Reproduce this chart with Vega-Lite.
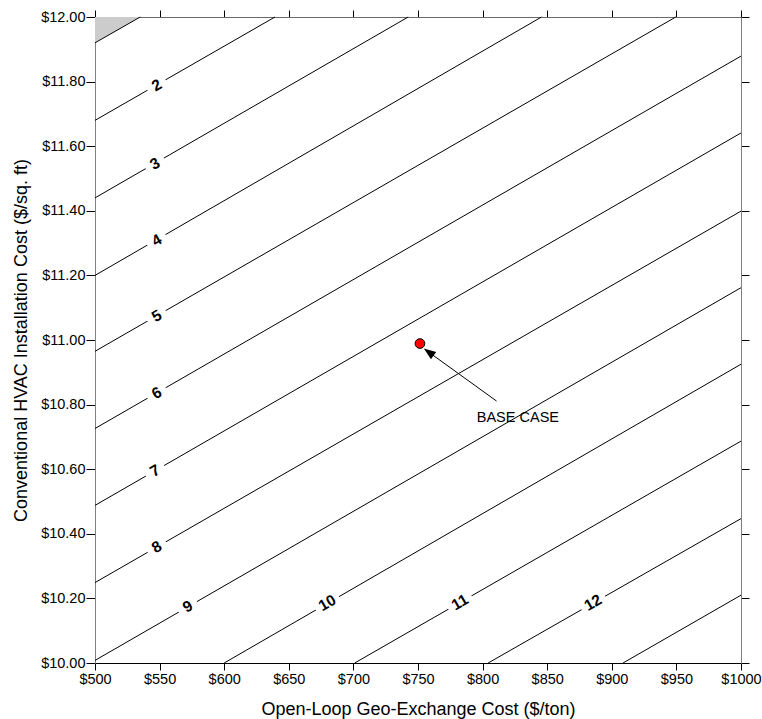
{
  "$schema": "https://vega.github.io/schema/vega-lite/v6.json",
  "width": 646,
  "height": 646,
  "autosize": {"type": "none"},
  "padding": {"left": 95, "top": 17, "right": 21, "bottom": 56},
  "background": "white",
  "config": {
    "view": {"stroke": null},
    "font": "Liberation Sans",
    "axis": {
      "grid": false,
      "labelFont": "Liberation Sans",
      "labelFontSize": 14.5,
      "labelColor": "black",
      "tickColor": "black",
      "tickWidth": 1,
      "domainWidth": 1,
      "titleFont": "Liberation Sans",
      "titleFontSize": 18,
      "titleFontWeight": "normal",
      "titleColor": "black",
      "labelFlush": false,
      "labelOverlap": false
    }
  },
  "datasets": {
    "shade": [
      {"x": 500, "y": 11.92, "y2": 12},
      {"x": 535, "y": 12, "y2": 12}
    ],
    "contours": [
      {"id": 1, "x": 500, "y": 11.92}, {"id": 1, "x": 535, "y": 12},
      {"id": 2, "x": 500, "y": 11.68}, {"id": 2, "x": 639.3, "y": 12},
      {"id": 3, "x": 500, "y": 11.44}, {"id": 3, "x": 742.4, "y": 12},
      {"id": 4, "x": 500, "y": 11.2}, {"id": 4, "x": 845.6, "y": 12},
      {"id": 5, "x": 500, "y": 10.965}, {"id": 5, "x": 949.5, "y": 12},
      {"id": 6, "x": 500, "y": 10.726}, {"id": 6, "x": 1000, "y": 11.879},
      {"id": 7, "x": 500, "y": 10.488}, {"id": 7, "x": 1000, "y": 11.641},
      {"id": 8, "x": 500, "y": 10.249}, {"id": 8, "x": 1000, "y": 11.399},
      {"id": 9, "x": 500, "y": 10.008}, {"id": 9, "x": 1000, "y": 11.162},
      {"id": 10, "x": 600, "y": 10}, {"id": 10, "x": 1000, "y": 10.925},
      {"id": 11, "x": 701, "y": 10}, {"id": 11, "x": 1000, "y": 10.687},
      {"id": 12, "x": 804.3, "y": 10}, {"id": 12, "x": 1000, "y": 10.447},
      {"id": 13, "x": 908.7, "y": 10}, {"id": 13, "x": 1000, "y": 10.21}
    ],
    "labels": [
      {"label": "2", "x": 547.7, "y": 11.789},
      {"label": "3", "x": 546.4, "y": 11.546},
      {"label": "4", "x": 547.7, "y": 11.309},
      {"label": "5", "x": 547.7, "y": 11.074},
      {"label": "6", "x": 547.7, "y": 10.836},
      {"label": "7", "x": 546.4, "y": 10.595},
      {"label": "8", "x": 547.7, "y": 10.359},
      {"label": "9", "x": 571.7, "y": 10.175},
      {"label": "10", "x": 679.7, "y": 10.186},
      {"label": "11", "x": 782.4, "y": 10.188},
      {"label": "12", "x": 885.5, "y": 10.187}
    ],
    "arrow": [{"x": 810.8, "y": 10.811, "x2": 758.3, "y2": 10.9625}],
    "arrowhead": [{"x": 758.3, "y": 10.9625}],
    "basecase": [{"x": 751.5, "y": 10.989}],
    "annot": [{"x": 827.3, "y": 10.746, "text": "BASE CASE"}]
  },
  "layer": [
    {
      "data": {"name": "shade"},
      "mark": {"type": "area", "color": "#cccccc", "opacity": 1},
      "encoding": {
        "x": {
          "field": "x", "type": "quantitative",
          "scale": {"domain": [500, 1000], "nice": false, "zero": false},
          "axis": {
            "orient": "bottom",
            "values": [500, 550, 600, 650, 700, 750, 800, 850, 900, 950, 1000],
            "labelExpr": "'$' + datum.value",
            "tickSize": 7,
            "labelPadding": 2,
            "domainColor": "black",
            "title": "Open-Loop Geo-Exchange Cost ($/ton)",
            "titleBaseline": "alphabetic",
            "titleY": 51.5
          }
        },
        "y": {
          "field": "y", "type": "quantitative",
          "scale": {"domain": [10, 12], "nice": false, "zero": false},
          "axis": {
            "orient": "left",
            "values": [10, 10.2, 10.4, 10.6, 10.8, 11, 11.2, 11.4, 11.6, 11.8, 12],
            "labelExpr": "'$' + format(datum.value, '.2f')",
            "tickSize": 9,
            "labelPadding": 1,
            "domainColor": "#808080",
            "title": "Conventional HVAC Installation Cost ($/sq. ft)",
            "titleBaseline": "alphabetic",
            "titleX": -69
          }
        },
        "y2": {"field": "y2"}
      }
    },
    {
      "data": {"name": "contours"},
      "mark": {"type": "line", "color": "black", "strokeWidth": 1},
      "encoding": {
        "x": {
          "field": "x", "type": "quantitative",
          "scale": {"domain": [500, 1000], "nice": false, "zero": false},
          "axis": {
            "orient": "top",
            "values": [500, 550, 600, 650, 700, 750, 800, 850, 900, 950, 1000],
            "labels": false,
            "tickSize": 7,
            "domainColor": "#6a6a6a",
            "title": null
          }
        },
        "y": {
          "field": "y", "type": "quantitative",
          "scale": {"domain": [10, 12], "nice": false, "zero": false},
          "axis": {
            "orient": "right",
            "values": [10, 10.2, 10.4, 10.6, 10.8, 11, 11.2, 11.4, 11.6, 11.8, 12],
            "labels": false,
            "tickSize": 8,
            "domainColor": "#808080",
            "title": null
          }
        },
        "detail": {"field": "id", "type": "nominal"}
      }
    },
    {
      "data": {"name": "labels"},
      "mark": {"type": "point", "shape": "M-1,-0.55H1V0.55H-1Z", "filled": true, "color": "white", "opacity": 1, "strokeWidth": 0, "angle": -30},
      "encoding": {
        "x": {"field": "x", "type": "quantitative", "scale": {"domain": [500, 1000], "nice": false, "zero": false}, "axis": null},
        "y": {"field": "y", "type": "quantitative", "scale": {"domain": [10, 12], "nice": false, "zero": false}, "axis": null},
        "size": {"condition": {"test": "length(datum.label) > 1", "value": 720}, "value": 440}
      }
    },
    {
      "data": {"name": "labels"},
      "mark": {"type": "text", "font": "Liberation Sans", "fontWeight": "bold", "fontSize": 15.5, "angle": -30, "align": "center", "baseline": "middle", "color": "black"},
      "encoding": {
        "x": {"field": "x", "type": "quantitative", "scale": {"domain": [500, 1000], "nice": false, "zero": false}, "axis": null},
        "y": {"field": "y", "type": "quantitative", "scale": {"domain": [10, 12], "nice": false, "zero": false}, "axis": null},
        "text": {"field": "label"}
      }
    },
    {
      "data": {"name": "arrow"},
      "mark": {"type": "rule", "color": "black", "strokeWidth": 1},
      "encoding": {
        "x": {"field": "x", "type": "quantitative", "scale": {"domain": [500, 1000], "nice": false, "zero": false}, "axis": null},
        "y": {"field": "y", "type": "quantitative", "scale": {"domain": [10, 12], "nice": false, "zero": false}, "axis": null},
        "x2": {"field": "x2"},
        "y2": {"field": "y2"}
      }
    },
    {
      "data": {"name": "arrowhead"},
      "mark": {"type": "point", "shape": "M0,-1L0.75,1L-0.75,1Z", "filled": true, "color": "black", "opacity": 1, "size": 144, "angle": -54.2},
      "encoding": {
        "x": {"field": "x", "type": "quantitative", "scale": {"domain": [500, 1000], "nice": false, "zero": false}, "axis": null},
        "y": {"field": "y", "type": "quantitative", "scale": {"domain": [10, 12], "nice": false, "zero": false}, "axis": null}
      }
    },
    {
      "data": {"name": "basecase"},
      "mark": {"type": "point", "shape": "circle", "filled": true, "color": "#ff0000", "stroke": "black", "strokeWidth": 1, "opacity": 1, "size": 95},
      "encoding": {
        "x": {"field": "x", "type": "quantitative", "scale": {"domain": [500, 1000], "nice": false, "zero": false}, "axis": null},
        "y": {"field": "y", "type": "quantitative", "scale": {"domain": [10, 12], "nice": false, "zero": false}, "axis": null}
      }
    },
    {
      "data": {"name": "annot"},
      "mark": {"type": "text", "font": "Liberation Sans", "fontSize": 14.5, "align": "center", "baseline": "alphabetic", "color": "black"},
      "encoding": {
        "x": {"field": "x", "type": "quantitative", "scale": {"domain": [500, 1000], "nice": false, "zero": false}, "axis": null},
        "y": {"field": "y", "type": "quantitative", "scale": {"domain": [10, 12], "nice": false, "zero": false}, "axis": null},
        "text": {"field": "text"}
      }
    }
  ],
  "resolve": {"axis": {"x": "independent", "y": "independent"}}
}
